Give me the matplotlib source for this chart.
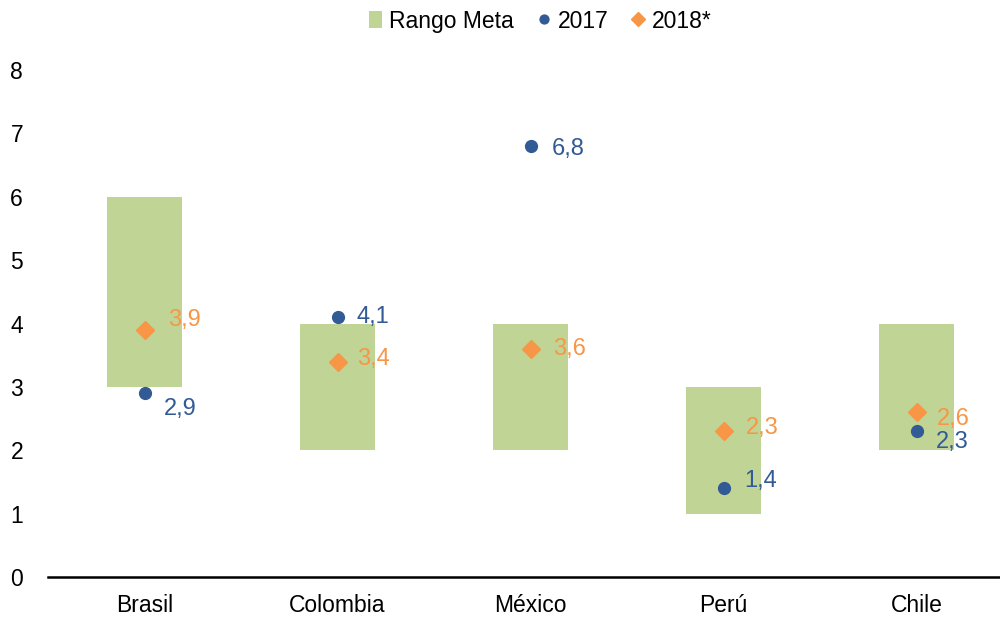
import matplotlib

matplotlib.use("Agg")

import matplotlib.pyplot as plt  # noqa: E402

plt.rcParams["font.family"] = ["Liberation Sans", "DejaVu Sans"]

countries = ["Brasil", "Colombia", "México", "Perú", "Chile"]
target_low = [3, 2, 2, 1, 2]
target_high = [6, 4, 4, 3, 4]
infl_2017 = [2.9, 4.1, 6.8, 1.4, 2.3]
infl_2018 = [3.9, 3.4, 3.6, 2.3, 2.6]

# label offsets (points) for each series, tuned per country
off_2017 = [(14, -11), (14, 0), (15, -2), (15, 5), (14, -8)]
off_2018 = [(17, 7), (14, 2), (16, 0), (16, 2), (15, -5)]

GREEN = "#C0D496"
BLUE = "#325A94"
ORANGE = "#F79646"

fig = plt.figure(figsize=(10, 6.17), dpi=100)
ax = fig.add_axes([0.048, 0.0648, 0.965, 0.8217])

x = list(range(len(countries)))
heights = [h - l for l, h in zip(target_low, target_high)]
bars = ax.bar(x, heights, bottom=target_low, width=0.39, color=GREEN,
              label="Rango Meta", zorder=1)
dots, = ax.plot(x, infl_2017, "o", color=BLUE, markersize=8.5, label="2017", zorder=3)
diams, = ax.plot(x, infl_2018, "D", color=ORANGE, markersize=9, label="2018*", zorder=3)

for xi, v, off in zip(x, infl_2017, off_2017):
    ax.annotate(f"{v:.1f}".replace(".", ","), (xi, v), xytext=off, textcoords="offset points",
                color=BLUE, fontsize=17, va="center", ha="left", zorder=4)
for xi, v, off in zip(x, infl_2018, off_2018):
    ax.annotate(f"{v:.1f}".replace(".", ","), (xi, v), xytext=off, textcoords="offset points",
                color=ORANGE, fontsize=17, va="center", ha="left", zorder=4)

ax.set_xlim(-0.5, len(countries) - 0.5)
ax.set_ylim(0, 8)
ax.set_yticks(range(0, 9))
ax.set_xticks(x)
ax.set_xticklabels(countries)
ax.tick_params(axis="both", length=0, labelsize=16.5)
ax.tick_params(axis="y", pad=18)
ax.tick_params(axis="x", pad=12)
for side in ["top", "right", "left"]:
    ax.spines[side].set_visible(False)
ax.spines["bottom"].set_linewidth(1.8)

fig.legend([bars, dots, diams], ["Rango Meta", "2017", "2018*"],
           loc="upper center", bbox_to_anchor=(0.54, 1.018), ncol=3, frameon=False,
           fontsize=16.5, handlelength=0.6, handletextpad=0.3, columnspacing=1.0,
           markerscale=0.75)

fig.savefig("out.png", dpi=100)
